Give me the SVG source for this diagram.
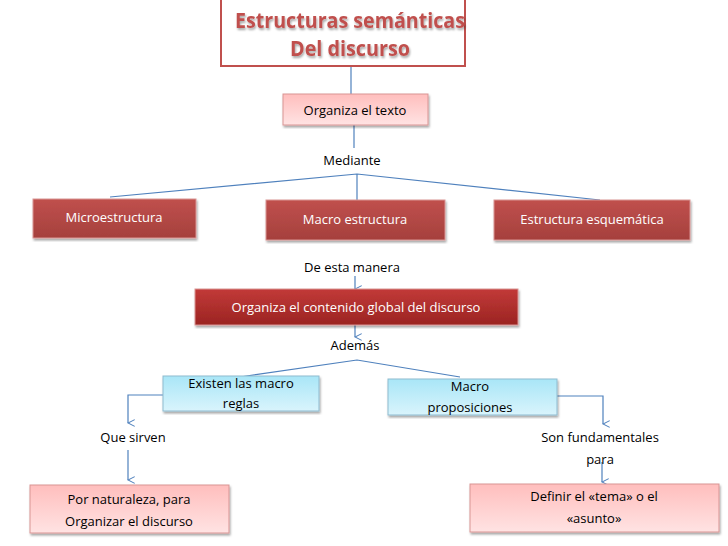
<svg xmlns="http://www.w3.org/2000/svg" width="728" height="546" viewBox="0 0 728 546">
<style>
text{font-family:"Open Sans","Liberation Sans",sans-serif;font-size:13px;text-anchor:middle;fill:#000}
.w{fill:#fff}
.t{font-family:"Open Sans","Liberation Sans",sans-serif;font-weight:bold;font-size:21px;fill:#c0504d}
.c{stroke:#4f81bd;stroke-width:1.2;fill:none}
.a{stroke:#4f81bd;stroke-width:1.2;fill:none;marker-end:url(#ar)}
</style>
<defs>
<linearGradient id="pk" x1="0" y1="0" x2="0" y2="1"><stop offset="0" stop-color="#ffbebd"/><stop offset="1" stop-color="#ffe3e3"/></linearGradient>
<linearGradient id="rd" x1="0" y1="0" x2="0" y2="1"><stop offset="0" stop-color="#c0504d"/><stop offset="1" stop-color="#a5403d"/></linearGradient>
<linearGradient id="dr" x1="0" y1="0" x2="0" y2="1"><stop offset="0" stop-color="#c23a38"/><stop offset="1" stop-color="#9b2422"/></linearGradient>
<linearGradient id="bl" x1="0" y1="0" x2="0" y2="1"><stop offset="0" stop-color="#a9e6f7"/><stop offset="1" stop-color="#d9f4fc"/></linearGradient>
<filter id="sh"><feDropShadow dx="1" dy="2" stdDeviation="1.2" flood-opacity="0.35"/></filter>
<marker id="ar" viewBox="0 0 10 10" refX="5" refY="9" markerWidth="7" markerHeight="7" orient="auto-start-reverse"><path d="M1,1 L5,9 L9,1" fill="none" stroke="#4f81bd" stroke-width="1.2"/></marker>
</defs>
<g id="connectors">
<line class="c" x1="351" y1="66" x2="351" y2="94"/>
<line class="c" x1="354" y1="125" x2="354" y2="148"/>
<polyline class="c" points="110,197 357,174 600,200"/>
<line class="c" x1="357" y1="174" x2="357" y2="200"/>
<line class="a" x1="355" y1="276" x2="355" y2="289"/>
<line class="a" x1="355" y1="325" x2="355" y2="337"/>
<polyline class="c" points="240,377 357,360 460,377"/>
<polyline class="a" points="163,395 128,395 128,423"/>
<line class="a" x1="128" y1="450" x2="128" y2="480"/>
<polyline class="a" points="557,396 603,396 603,424"/>
<line class="a" x1="602" y1="462" x2="602" y2="482"/>
</g>
<g id="title"><rect x="221" y="-2" width="244" height="68" fill="#fff" stroke="#c0504d" stroke-width="2"/>
<text class="t" x="350" y="28" textLength="230" lengthAdjust="spacingAndGlyphs" filter="url(#sh)">Estructuras semánticas</text><text class="t" x="350" y="56" textLength="120" lengthAdjust="spacingAndGlyphs" filter="url(#sh)">Del discurso</text></g>
<g id="n1"><rect x="283" y="94" width="145" height="31" fill="url(#pk)" stroke="#d99594" filter="url(#sh)"/><text x="355" y="115">Organiza el texto</text></g>
<text x="352" y="165">Mediante</text>
<g id="n2"><rect x="33" y="199" width="163" height="39" fill="url(#rd)" stroke="#d99594" filter="url(#sh)"/><text class="w" x="114" y="222">Microestructura</text></g>
<g id="n3"><rect x="266" y="200" width="179" height="40" fill="url(#rd)" stroke="#d99594" filter="url(#sh)"/><text class="w" x="355" y="224">Macro estructura</text></g>
<g id="n4"><rect x="494" y="200" width="196" height="40" fill="url(#rd)" stroke="#d99594" filter="url(#sh)"/><text class="w" x="592" y="224">Estructura esquemática</text></g>
<text x="352" y="272">De esta manera</text>
<g id="n5"><rect x="195" y="289" width="323" height="36" fill="url(#dr)" stroke="#d99594" filter="url(#sh)"/><text class="w" x="356" y="312">Organiza el contenido global del discurso</text></g>
<text x="355" y="350">Además</text>
<g id="n6"><rect x="163" y="376" width="156" height="35" fill="url(#bl)" stroke="#8fbbd0" filter="url(#sh)"/><text x="241" y="388">Existen las macro</text><text x="241" y="408">reglas</text></g>
<g id="n7"><rect x="388" y="379" width="169" height="36" fill="url(#bl)" stroke="#8fbbd0" filter="url(#sh)"/><text x="470" y="391">Macro</text><text x="470" y="412">proposiciones</text></g>
<text x="133" y="442">Que sirven</text>
<text x="600" y="442">Son fundamentales</text><text x="600" y="464">para</text>
<g id="n8"><rect x="30" y="485" width="199" height="48" fill="url(#pk)" stroke="#d99594" filter="url(#sh)"/><text x="129" y="504">Por naturaleza, para</text><text x="129" y="526">Organizar el discurso</text></g>
<g id="n9"><rect x="470" y="484" width="249" height="48" fill="url(#pk)" stroke="#d99594" filter="url(#sh)"/><text x="594" y="501">Definir el «tema» o el</text><text x="594" y="523">«asunto»</text></g>
</svg>
